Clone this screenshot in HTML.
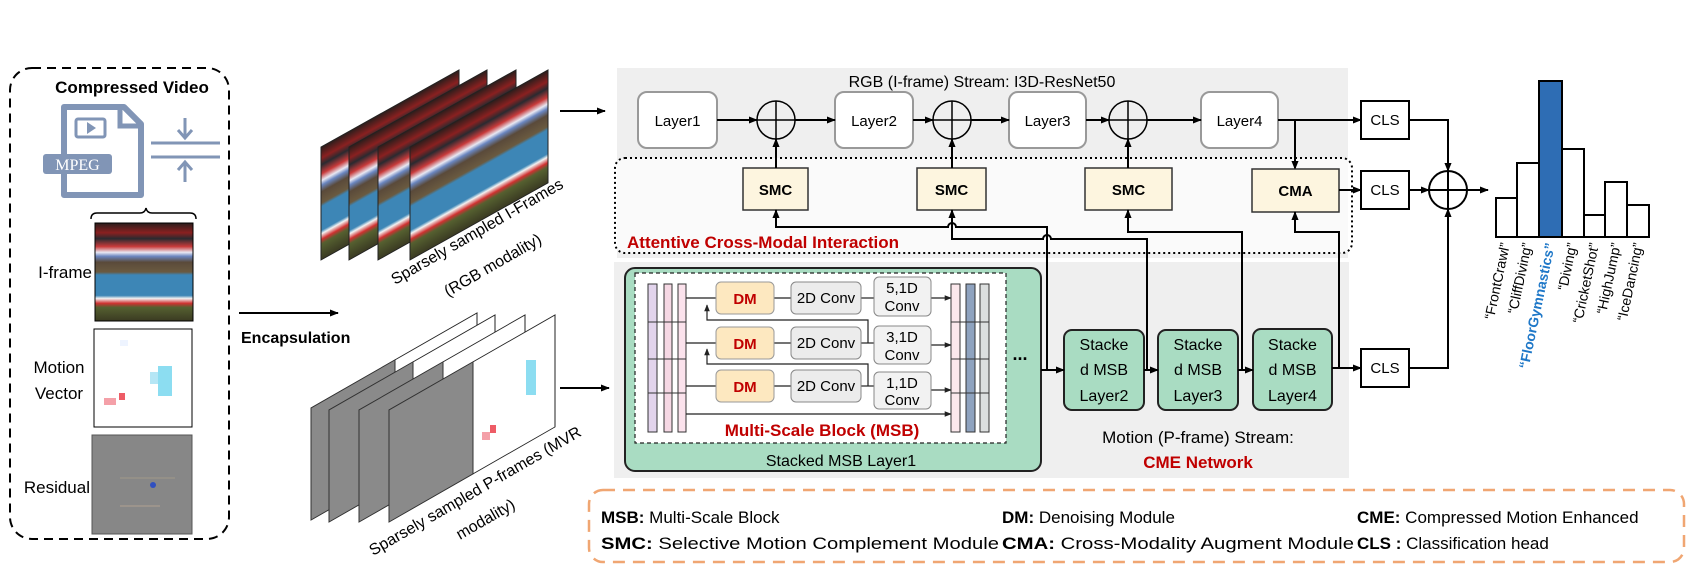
<!DOCTYPE html>
<html><head><meta charset="utf-8"><style>
html,body{margin:0;padding:0;background:#fff;}
svg{display:block;font-family:"Liberation Sans",sans-serif;}
</style></head><body>
<svg width="1697" height="572" viewBox="0 0 1697 572" xmlns="http://www.w3.org/2000/svg">
<defs>
<marker id="a" viewBox="0 0 10 10" refX="9" refY="5" markerWidth="9" markerHeight="9" markerUnits="userSpaceOnUse" orient="auto"><path d="M0,1 L10,5 L0,9z" fill="#000"/></marker>
<marker id="s" viewBox="0 0 10 10" refX="9" refY="5" markerWidth="7" markerHeight="7" markerUnits="userSpaceOnUse" orient="auto"><path d="M0,1 L10,5 L0,9z" fill="#222"/></marker>
<linearGradient id="ig" x1="0" y1="0" x2="0" y2="1">
<stop offset="0" stop-color="#2a1e1c"/><stop offset="0.1" stop-color="#8a2020"/><stop offset="0.16" stop-color="#2a2a30"/>
<stop offset="0.24" stop-color="#c83a3a"/><stop offset="0.3" stop-color="#e8e8f2"/><stop offset="0.34" stop-color="#6a86c0"/>
<stop offset="0.4" stop-color="#5a4a3a"/><stop offset="0.5" stop-color="#6a5a40"/><stop offset="0.53" stop-color="#3d86b6"/>
<stop offset="0.74" stop-color="#3d86b6"/><stop offset="0.77" stop-color="#f2f2f2"/><stop offset="0.82" stop-color="#d03030"/>
<stop offset="0.86" stop-color="#556030"/><stop offset="1" stop-color="#3a3a22"/>
</linearGradient>
</defs>

<!-- Left compressed video box -->
<rect x="10" y="68" width="219" height="471" rx="22" fill="none" stroke="#000" stroke-width="2" stroke-dasharray="9,6"/>
<text x="132" y="93" font-size="17" font-weight="bold" text-anchor="middle">Compressed Video</text>
<!-- file icon -->
<path d="M64,107 H124 L141,124 V195 H64 Z" fill="none" stroke="#8195b6" stroke-width="6" stroke-linejoin="round"/>
<path d="M120,107 V126 H141" fill="none" stroke="#8195b6" stroke-width="5"/>
<rect x="76" y="119" width="29" height="18" rx="2" fill="none" stroke="#8195b6" stroke-width="3"/>
<path d="M87,122 L96,128 L87,134Z" fill="#8195b6"/>
<rect x="43" y="154" width="69" height="20" rx="3" fill="#8195b6"/>
<text x="77.5" y="170" font-size="16" fill="#fff" text-anchor="middle" font-family="Liberation Serif,serif">MPEG</text>
<!-- compress icon -->
<line x1="151" y1="143" x2="220" y2="143" stroke="#8195b6" stroke-width="3"/>
<line x1="151" y1="157" x2="220" y2="157" stroke="#8195b6" stroke-width="3"/>
<line x1="185" y1="118" x2="185" y2="137" stroke="#8195b6" stroke-width="3"/>
<path d="M178,130 L185,138 L192,130" fill="none" stroke="#8195b6" stroke-width="3"/>
<line x1="185" y1="163" x2="185" y2="182" stroke="#8195b6" stroke-width="3"/>
<path d="M178,170 L185,162 L192,170" fill="none" stroke="#8195b6" stroke-width="3"/>
<!-- brace -->
<path d="M91,219 Q91,213 97,213 H140 Q145,213 146,208 Q147,213 152,213 H190 Q196,213 196,219" fill="none" stroke="#000" stroke-width="1.5"/>
<!-- I-frame image -->
<rect x="95" y="223" width="98" height="98" fill="url(#ig)" stroke="#000" stroke-width="1"/>
<text x="92" y="278" font-size="17" text-anchor="end">I-frame</text>
<!-- MV -->
<rect x="94" y="329" width="98" height="98" fill="#fff" stroke="#000" stroke-width="1"/>
<rect x="158" y="366" width="14" height="30" fill="#6fd5ee" opacity="0.8"/>
<rect x="150" y="372" width="8" height="12" fill="#b5e6f5"/>
<rect x="104" y="398" width="12" height="7" fill="#f4a0a8"/>
<rect x="119" y="393" width="6" height="7" fill="#ee5c66"/>
<rect x="120" y="340" width="8" height="6" fill="#eef4ff"/>
<text x="59" y="373" font-size="17" text-anchor="middle">Motion</text>
<text x="59" y="399" font-size="17" text-anchor="middle">Vector</text>
<!-- Residual -->
<rect x="92" y="435" width="100" height="99" fill="#878787" stroke="#555" stroke-width="1"/>
<line x1="120" y1="478" x2="175" y2="478" stroke="#a09a8a" stroke-width="1"/>
<line x1="120" y1="506" x2="160" y2="506" stroke="#b0a090" stroke-width="1"/>
<circle cx="153" cy="485" r="3" fill="#3050c0"/>
<text x="90" y="493" font-size="17" text-anchor="end">Residual</text>

<!-- Encapsulation -->
<line x1="239" y1="313" x2="338" y2="313" stroke="#000" stroke-width="2" marker-end="url(#a)"/>
<text x="241" y="343" font-size="16" font-weight="bold">Encapsulation</text>

<!-- I-frame stack -->
<g transform="translate(321,260) skewY(-29.2)"><rect x="0" y="-113" width="138" height="113" fill="url(#ig)" stroke="#222" stroke-width="1"/></g>
<g transform="translate(349,260) skewY(-29.2)"><rect x="0" y="-113" width="138" height="113" fill="url(#ig)" stroke="#222" stroke-width="1"/></g>
<g transform="translate(378,260) skewY(-29.2)"><rect x="0" y="-113" width="138" height="113" fill="url(#ig)" stroke="#222" stroke-width="1"/></g>
<g transform="translate(410,260) skewY(-29.2)"><rect x="0" y="-113" width="138" height="113" fill="url(#ig)" stroke="#222" stroke-width="1"/></g>
<text transform="translate(395,285) rotate(-30)" font-size="16">Sparsely sampled I-Frames</text>
<text transform="translate(448,297) rotate(-30)" font-size="16">(RGB modality)</text>

<!-- P-frame stack -->
<g transform="translate(311,520) skewY(-29.8)"><rect x="0" y="-112" width="166" height="112" fill="#fff" stroke="#222" stroke-width="1"/><rect x="0" y="-112" width="84" height="112" fill="#8a8a8a" stroke="#333" stroke-width="1"/></g>
<g transform="translate(329,522) skewY(-29.8)"><rect x="0" y="-112" width="166" height="112" fill="#fff" stroke="#222" stroke-width="1"/><rect x="0" y="-112" width="84" height="112" fill="#8a8a8a" stroke="#333" stroke-width="1"/></g>
<g transform="translate(359,522) skewY(-29.8)"><rect x="0" y="-112" width="166" height="112" fill="#fff" stroke="#222" stroke-width="1"/><rect x="0" y="-112" width="84" height="112" fill="#8a8a8a" stroke="#333" stroke-width="1"/></g>
<g transform="translate(389,522) skewY(-29.8)"><rect x="0" y="-112" width="166" height="112" fill="#fff" stroke="#222" stroke-width="1"/><rect x="0" y="-112" width="84" height="112" fill="#8a8a8a" stroke="#333" stroke-width="1"/></g>
<rect x="526" y="360" width="10" height="35" fill="#6fd5ee" opacity="0.8"/>
<rect x="490" y="425" width="6" height="8" fill="#ee5c66"/>
<rect x="482" y="432" width="8" height="8" fill="#f4a0a8"/>
<text transform="translate(373,556) rotate(-30)" font-size="16">Sparsely sampled P-frames (MVR</text>
<text transform="translate(460,540) rotate(-30)" font-size="16">modality)</text>

<!-- input arrows -->
<line x1="560" y1="111" x2="605" y2="111" stroke="#000" stroke-width="2" marker-end="url(#a)"/>
<line x1="560" y1="388" x2="609" y2="388" stroke="#000" stroke-width="2" marker-end="url(#a)"/>

<!-- panels -->
<rect x="617" y="68" width="731" height="190" fill="#efefef"/>
<rect x="614" y="262" width="735" height="216" fill="#efefef"/>
<rect x="615" y="158" width="737" height="95" rx="10" fill="#fff" fill-opacity="0.7" stroke="#000" stroke-width="2" stroke-dasharray="2,3"/>
<text x="982" y="87" font-size="16" text-anchor="middle">RGB (I-frame) Stream: I3D-ResNet50</text>

<!-- Layers -->
<g font-size="15" text-anchor="middle">
<rect x="638" y="92" width="79" height="56" rx="9" fill="#fff" stroke="#999" stroke-width="2"/><text x="677.5" y="126">Layer1</text>
<rect x="835" y="92" width="78" height="56" rx="9" fill="#fff" stroke="#999" stroke-width="2"/><text x="874" y="126">Layer2</text>
<rect x="1009" y="92" width="77" height="56" rx="9" fill="#fff" stroke="#999" stroke-width="2"/><text x="1047.5" y="126">Layer3</text>
<rect x="1201" y="92" width="77" height="56" rx="9" fill="#fff" stroke="#999" stroke-width="2"/><text x="1239.5" y="126">Layer4</text>
</g>
<g stroke="#000" stroke-width="2" fill="none">
<line x1="717" y1="120" x2="757" y2="120" marker-end="url(#a)"/>
<line x1="795" y1="120" x2="835" y2="120" marker-end="url(#a)"/>
<line x1="913" y1="120" x2="933" y2="120" marker-end="url(#a)"/>
<line x1="971" y1="120" x2="1009" y2="120" marker-end="url(#a)"/>
<line x1="1086" y1="120" x2="1109" y2="120" marker-end="url(#a)"/>
<line x1="1147" y1="120" x2="1201" y2="120" marker-end="url(#a)"/>
<line x1="1278" y1="120" x2="1361" y2="120" marker-end="url(#a)"/>
<line x1="1295" y1="120" x2="1295" y2="169" marker-end="url(#a)"/>
</g>
<g stroke="#000" stroke-width="1.5" fill="none">
<circle cx="776" cy="120" r="19"/><line x1="757" y1="120" x2="795" y2="120"/><line x1="776" y1="101" x2="776" y2="139"/>
<circle cx="952" cy="120" r="19"/><line x1="933" y1="120" x2="971" y2="120"/><line x1="952" y1="101" x2="952" y2="139"/>
<circle cx="1128" cy="120" r="19"/><line x1="1109" y1="120" x2="1147" y2="120"/><line x1="1128" y1="101" x2="1128" y2="139"/>
</g>
<!-- SMC / CMA -->
<g font-size="15" font-weight="bold" text-anchor="middle">
<rect x="743" y="168" width="65" height="42" fill="#fdf5df" stroke="#333" stroke-width="1.5"/><text x="775.5" y="195">SMC</text>
<rect x="917" y="168" width="69" height="42" fill="#fdf5df" stroke="#333" stroke-width="1.5"/><text x="951.5" y="195">SMC</text>
<rect x="1085" y="168" width="87" height="42" fill="#fdf5df" stroke="#333" stroke-width="1.5"/><text x="1128.5" y="195">SMC</text>
<rect x="1252" y="169" width="87" height="43" fill="#fdf5df" stroke="#333" stroke-width="1.5"/><text x="1295.5" y="196">CMA</text>
</g>
<g stroke="#000" stroke-width="2" fill="none">
<line x1="776" y1="168" x2="776" y2="139" marker-end="url(#a)"/>
<line x1="952" y1="168" x2="952" y2="139" marker-end="url(#a)"/>
<line x1="1128" y1="168" x2="1128" y2="139" marker-end="url(#a)"/>
</g>
<text x="627" y="248" font-size="17" font-weight="bold" fill="#c00000">Attentive Cross-Modal Interaction</text>

<!-- CLS -->
<g font-size="15" text-anchor="middle">
<rect x="1361" y="101" width="48" height="38" fill="#fff" stroke="#000" stroke-width="2"/><text x="1385" y="125">CLS</text>
<rect x="1361" y="171" width="48" height="38" fill="#fff" stroke="#000" stroke-width="2"/><text x="1385" y="195">CLS</text>
<rect x="1361" y="349" width="48" height="38" fill="#fff" stroke="#000" stroke-width="2"/><text x="1385" y="373">CLS</text>
</g>
<g stroke="#000" stroke-width="2" fill="none">
<line x1="1339" y1="190" x2="1361" y2="190" marker-end="url(#a)"/>
<path d="M1409,120 H1448 V171" marker-end="url(#a)"/>
<line x1="1409" y1="190" x2="1429" y2="190" marker-end="url(#a)"/>
<path d="M1409,368 H1448 V209" marker-end="url(#a)"/>
<line x1="1467" y1="190" x2="1488" y2="190" marker-end="url(#a)"/>
<circle cx="1448" cy="190" r="19"/><line x1="1429" y1="190" x2="1467" y2="190"/><line x1="1448" y1="171" x2="1448" y2="209"/>
</g>

<!-- bar chart -->
<g stroke="#000" stroke-width="2">
<rect x="1496" y="198" width="21" height="39" fill="#fff"/>
<rect x="1517" y="163" width="22" height="74" fill="#fff"/>
<rect x="1539" y="81" width="23" height="156" fill="#2e6db4"/>
<rect x="1562" y="149" width="22" height="88" fill="#fff"/>
<rect x="1584" y="215" width="21" height="22" fill="#fff"/>
<rect x="1605" y="182" width="22" height="55" fill="#fff"/>
<rect x="1627" y="205" width="22" height="32" fill="#fff"/>
</g>
<g font-size="14" text-anchor="end">
<text transform="translate(1510,244) rotate(-78)">“FrontCrawl”</text>
<text transform="translate(1532,244) rotate(-78)">“CliffDiving”</text>
<text transform="translate(1555,244) rotate(-78)" fill="#1f78c8" font-weight="bold">“FloorGymnastics”</text>
<text transform="translate(1577,244) rotate(-78)">“Diving”</text>
<text transform="translate(1599,244) rotate(-78)">“CricketShot”</text>
<text transform="translate(1621,244) rotate(-78)">“HighJump”</text>
<text transform="translate(1643,244) rotate(-78)">“IceDancing”</text>
</g>

<!-- Motion stream -->
<rect x="625" y="268" width="416" height="203" rx="10" fill="#a9dcc2" stroke="#222" stroke-width="2"/>
<rect x="635" y="273" width="371" height="170" fill="#fff" stroke="#222" stroke-width="1.2" stroke-dasharray="4,3"/>
<text x="841" y="466" font-size="16" text-anchor="middle">Stacked MSB Layer1</text>
<!-- columns -->
<g stroke="#333" stroke-width="1">
<rect x="648" y="284" width="9" height="148" fill="#e2d4ec"/>
<rect x="664" y="284" width="8" height="148" fill="#f6d8e4"/>
<rect x="678" y="284" width="8" height="148" fill="#fbe2ec"/>
<rect x="951" y="284" width="9" height="148" fill="#fbe8ec"/>
<rect x="966" y="284" width="9" height="148" fill="#8fa3bf"/>
<rect x="980" y="284" width="9" height="148" fill="#dcdfdf"/>
<path d="M648,322H686M648,359H686M648,393H686M951,322H989M951,359H989M951,393H989"/>
</g>
<g stroke="#222" stroke-width="1.2" fill="none">
<line x1="686" y1="298" x2="716" y2="298"/><line x1="686" y1="343" x2="716" y2="343"/><line x1="686" y1="386" x2="716" y2="386"/>
<line x1="774" y1="298" x2="791" y2="298"/><line x1="774" y1="343" x2="791" y2="343"/><line x1="774" y1="386" x2="791" y2="386"/>
<line x1="861" y1="298" x2="874" y2="298"/><line x1="861" y1="343" x2="874" y2="343"/><line x1="861" y1="386" x2="874" y2="386"/>
<line x1="931" y1="298" x2="951" y2="298" marker-end="url(#s)"/>
<line x1="931" y1="345" x2="951" y2="345" marker-end="url(#s)"/>
<line x1="931" y1="390" x2="951" y2="390" marker-end="url(#s)"/>
<line x1="686" y1="414" x2="951" y2="414" marker-end="url(#s)"/>
<path d="M868,343 V320 H707 V305" marker-end="url(#s)"/>
<path d="M868,386 V364 H707 V349" marker-end="url(#s)"/>
</g>
<g font-size="15" text-anchor="middle">
<rect x="716" y="282" width="58" height="32" rx="5" fill="#fde8c0" stroke="#999"/><text x="745" y="304" fill="#c00000" font-weight="bold">DM</text>
<rect x="716" y="327" width="58" height="32" rx="5" fill="#fde8c0" stroke="#999"/><text x="745" y="349" fill="#c00000" font-weight="bold">DM</text>
<rect x="716" y="370" width="58" height="32" rx="5" fill="#fde8c0" stroke="#999"/><text x="745" y="392" fill="#c00000" font-weight="bold">DM</text>
<rect x="791" y="282" width="70" height="32" rx="5" fill="#ececec" stroke="#888"/><text x="826" y="303">2D Conv</text>
<rect x="791" y="327" width="70" height="32" rx="5" fill="#ececec" stroke="#888"/><text x="826" y="348">2D Conv</text>
<rect x="791" y="370" width="70" height="32" rx="5" fill="#ececec" stroke="#888"/><text x="826" y="391">2D Conv</text>
<rect x="874" y="277" width="57" height="39" rx="5" fill="#f2f2f2" stroke="#888"/><text x="902" y="293">5,1D</text><text x="902" y="311">Conv</text>
<rect x="874" y="326" width="57" height="38" rx="5" fill="#f2f2f2" stroke="#888"/><text x="902" y="342">3,1D</text><text x="902" y="360">Conv</text>
<rect x="874" y="372" width="57" height="37" rx="5" fill="#f2f2f2" stroke="#888"/><text x="902" y="388">1,1D</text><text x="902" y="405">Conv</text>
</g>
<text x="822" y="436" font-size="17" font-weight="bold" fill="#c00000" text-anchor="middle">Multi-Scale Block (MSB)</text>
<text x="1020" y="360" font-size="18" font-weight="bold" text-anchor="middle">...</text>

<!-- stacked -->
<g font-size="16" text-anchor="middle">
<rect x="1064" y="330" width="80" height="80" rx="8" fill="#a9dcc2" stroke="#222" stroke-width="2"/>
<text x="1104" y="350">Stacke</text><text x="1104" y="375">d MSB</text><text x="1104" y="401">Layer2</text>
<rect x="1158" y="330" width="80" height="80" rx="8" fill="#a9dcc2" stroke="#222" stroke-width="2"/>
<text x="1198" y="350">Stacke</text><text x="1198" y="375">d MSB</text><text x="1198" y="401">Layer3</text>
<rect x="1253" y="329" width="79" height="81" rx="8" fill="#a9dcc2" stroke="#222" stroke-width="2"/>
<text x="1292.5" y="350">Stacke</text><text x="1292.5" y="375">d MSB</text><text x="1292.5" y="401">Layer4</text>
</g>
<text x="1198" y="443" font-size="17" text-anchor="middle">Motion (P-frame) Stream:</text>
<text x="1198" y="468" font-size="17" font-weight="bold" fill="#c00000" text-anchor="middle">CME Network</text>

<!-- motion connections -->
<g stroke="#000" stroke-width="2" fill="none">
<line x1="1041" y1="370" x2="1064" y2="370" marker-end="url(#a)"/>
<line x1="1144" y1="370" x2="1158" y2="370" marker-end="url(#a)"/>
<line x1="1238" y1="370" x2="1253" y2="370" marker-end="url(#a)"/>
<line x1="1332" y1="368" x2="1361" y2="368" marker-end="url(#a)"/>
<path d="M1047,370 V227 H956 A4,4 0 0 0 948,227 H776 V210" marker-end="url(#a)"/>
<path d="M1147,370 V239 H1051 A4,4 0 0 0 1043,239 H952 V210" marker-end="url(#a)"/>
<path d="M1242,370 V232 H1128 V210" marker-end="url(#a)"/>
<path d="M1339,368 V232 H1295 V212" marker-end="url(#a)"/>
</g>

<!-- legend -->
<rect x="589" y="490" width="1095" height="72" rx="14" fill="none" stroke="#f0a672" stroke-width="2.5" stroke-dasharray="12,8"/>
<g font-size="17">
<text x="601" y="523"><tspan font-weight="bold">MSB:</tspan> Multi-Scale Block</text>
<text x="1002" y="523"><tspan font-weight="bold">DM:</tspan> Denoising Module</text>
<text x="1357" y="523"><tspan font-weight="bold">CME:</tspan> Compressed Motion Enhanced</text>
<text x="601" y="549" textLength="398" lengthAdjust="spacingAndGlyphs"><tspan font-weight="bold">SMC:</tspan> Selective Motion Complement Module</text>
<text x="1002" y="549" textLength="352" lengthAdjust="spacingAndGlyphs"><tspan font-weight="bold">CMA:</tspan> Cross-Modality Augment Module</text>
<text x="1357" y="549"><tspan font-weight="bold">CLS :</tspan> Classification head</text>
</g>
</svg>
</body></html>
